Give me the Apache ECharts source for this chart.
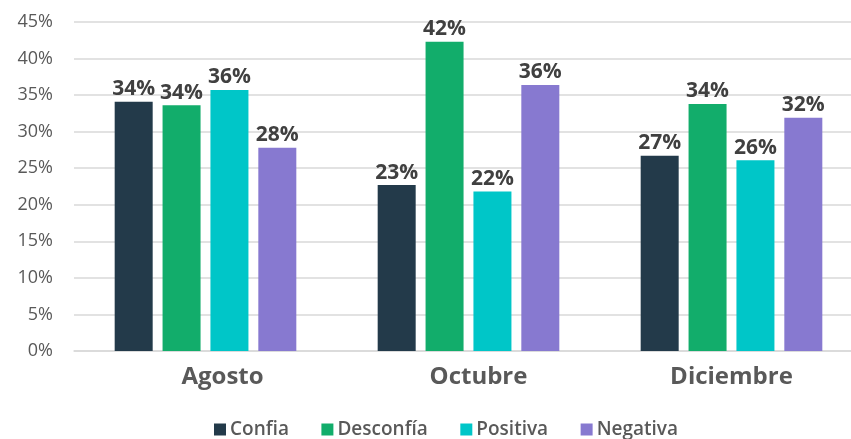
<!DOCTYPE html>
<html>
<head>
<meta charset="utf-8">
<script src="https://cdn.jsdelivr.net/npm/echarts@6/dist/echarts.min.js"></script>
<style>html,body{margin:0;padding:0;background:#fff;}#c{width:851px;height:439px;}</style>
</head>
<body>
<div id="c"></div>
<script>
var categories = ['Agosto', 'Octubre', 'Diciembre'];
var seriesNames = ['Confia', 'Desconfía', 'Positiva', 'Negativa'];
var confia = [34.1, 22.7, 26.7];
var desconfia = [33.6, 42.3, 33.8];
var positiva = [35.7, 21.8, 26.1];
var negativa = [27.8, 36.4, 31.9];
var yTicks = [0, 5, 10, 15, 20, 25, 30, 35, 40, 45];
var colors = ['#233a4a', '#12ad6b', '#00c6c8', '#8779d0'];
var values = [confia, desconfia, positiva, negativa];

var font = 'Open Sans';
var labelPadLeft = [34, 20, 0];
var chart = echarts.init(document.getElementById('c'));
chart.setOption({
  animation: false,
  textStyle: { fontFamily: font },
  color: colors,
  grid: { left: 74, top: 22, width: 789, height: 329, outerBoundsMode: 'none', containLabel: false },
  legend: {
    data: seriesNames,
    left: 209, top: 415, padding: 5,
    itemWidth: 12, itemHeight: 12, itemGap: 32.5,
    icon: 'rect',
    textStyle: { fontFamily: font, fontSize: 19, color: '#595959', fontWeight: 600, padding: [0, 0, 0, -1] }
  },
  xAxis: {
    type: 'category',
    data: categories.map(function (c, i) {
      return { value: c, textStyle: { padding: [0, 0, 0, labelPadLeft[i]] } };
    }),
    axisTick: { show: false },
    axisLine: { lineStyle: { color: '#d9d9d9', width: 1.5 } },
    axisLabel: { fontFamily: font, fontSize: 24, fontWeight: 'bold', color: '#595959', margin: 14 }
  },
  yAxis: {
    type: 'value',
    min: yTicks[0], max: yTicks[yTicks.length - 1], interval: 5,
    axisLine: { show: false },
    axisTick: { show: false },
    splitLine: { lineStyle: { color: '#d9d9d9', width: 1.5 } },
    axisLabel: { fontFamily: font, fontSize: 18, color: '#595959', margin: 21, formatter: '{value}%' }
  },
  series: seriesNames.map(function (n, i) {
    return {
      name: n,
      type: 'bar',
      data: values[i],
      barWidth: 38,
      barGap: '26%',
      itemStyle: { color: colors[i] },
      label: {
        show: true, position: 'top', distance: 2,
        fontFamily: font, fontSize: 21, fontWeight: 'bold', color: '#404040',
        formatter: function (p) { return Math.round(p.value) + '%'; }
      }
    };
  })
});
</script>
</body>
</html>
